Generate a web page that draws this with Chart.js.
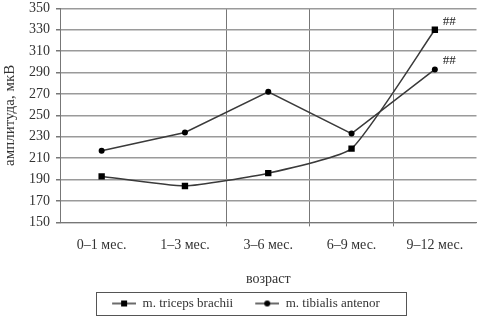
<!DOCTYPE html>
<html>
<head>
<meta charset="utf-8">
<script src="https://cdn.jsdelivr.net/npm/chart.js@4.4.1/dist/chart.umd.min.js"></script>
<style>
  html, body { margin: 0; padding: 0; background: #fff; overflow: hidden; }
  #wrap { width: 481px; height: 328px; margin-top: -6px; position: relative; }
</style>
</head>
<body>
<div id="wrap"><canvas id="chart"></canvas></div>
<script>
const ageGroups = ['0–1 мес.', '1–3 мес.', '3–6 мес.', '6–9 мес.', '9–12 мес.'];
const tricepsValues = [193, 184, 196, 219, 330];
const tibialisValues = [217, 234, 272, 233, 293];
const seriesNames = ['m. triceps brachii', 'm. tibialis antenor'];
const markNotes = ['', '', '', '', '##'];

const serif = "'Liberation Serif', 'DejaVu Serif', serif";
const lineColor = '#3a3a3a';
const textColor = '#333';

// small line+marker images for the legend (blank margin on the left for spacing)
function legendIcon(style) {
    const c = document.createElement('canvas');
    c.width = 38; c.height = 10;
    const g = c.getContext('2d');
    g.strokeStyle = lineColor; g.lineWidth = 1.5;
    g.beginPath(); g.moveTo(14, 5); g.lineTo(38, 5); g.stroke();
    g.fillStyle = '#000';
    if (style === 'rect') g.fillRect(23, 2, 6, 6);
    else { g.beginPath(); g.arc(26, 5, 3, 0, Math.PI * 2); g.fill(); }
    return c;
}

// "##" marks next to the last points
const notesPlugin = {
    id: 'notes',
    afterDatasetsDraw(chart) {
        const ctx = chart.ctx;
        ctx.save();
        ctx.font = '13px ' + serif;
        ctx.fillStyle = '#222';
        ctx.textBaseline = 'bottom';
        chart.data.datasets.forEach((ds, i) => {
            chart.getDatasetMeta(i).data.forEach((pt, j) => {
                if (markNotes[j]) ctx.fillText(markNotes[j], pt.x + 8, pt.y - 2);
            });
        });
        ctx.restore();
    }
};

// frame round the legend
const legendBoxPlugin = {
    id: 'legendBox',
    afterDraw(chart) {
        const lg = chart.legend;
        if (!lg || !lg.legendHitBoxes.length) return;
        const boxes = lg.legendHitBoxes;
        const x0 = boxes[0].left - 2;
        const x1 = boxes[boxes.length - 1].left + boxes[boxes.length - 1].width + 26;
        const yc = boxes[0].top + boxes[0].height / 2;
        const ctx = chart.ctx;
        ctx.save();
        ctx.strokeStyle = '#555';
        ctx.lineWidth = 1;
        ctx.strokeRect(Math.round(x0) + 0.5, Math.round(yc - 12) + 0.5, Math.round(x1 - x0), 23);
        ctx.restore();
    }
};

new Chart(document.getElementById('chart'), {
    type: 'line',
    data: {
        labels: ageGroups,
        datasets: [
            {
                label: seriesNames[0],
                data: tricepsValues,
                borderColor: lineColor,
                borderWidth: 1.5,
                pointStyle: 'rect',
                pointRadius: 4.5,
                pointBorderWidth: 0,
                pointBackgroundColor: '#000',
                pointBorderColor: '#000',
                tension: 0.15
            },
            {
                label: seriesNames[1],
                data: tibialisValues,
                borderColor: lineColor,
                borderWidth: 1.5,
                pointStyle: 'circle',
                pointRadius: 3,
                pointBorderWidth: 0,
                pointBackgroundColor: '#000',
                pointBorderColor: '#000',
                tension: 0
            }
        ]
    },
    options: {
        responsive: true,
        maintainAspectRatio: false,
        animation: false,
        layout: { padding: { left: 1, right: 4, top: 0, bottom: 2 } },
        plugins: {
            legend: {
                position: 'bottom',
                labels: {
                    font: { family: serif, size: 13 },
                    color: textColor,
                    usePointStyle: true,
                    pointStyleWidth: 38,
                    padding: 8,
                    generateLabels(chart) {
                        return chart.data.datasets.map((ds, i) => ({
                            text: ds.label,
                            pointStyle: legendIcon(ds.pointStyle),
                            datasetIndex: i,
                            fontColor: textColor,
                            lineWidth: 0,
                            strokeStyle: 'transparent',
                            fillStyle: 'transparent'
                        }));
                    }
                }
            },
            tooltip: { enabled: false }
        },
        scales: {
            x: {
                offset: true,
                grid: {
                    offset: true,
                    color: (c) => (c.index >= 2 && c.index <= 4) ? '#777' : 'rgba(0,0,0,0)',
                    tickColor: (c) => (c.index >= 2 && c.index <= 4) ? '#777' : 'rgba(0,0,0,0)',
                    tickLength: 4
                },
                border: { display: true, color: '#777' },
                ticks: { font: { family: serif, size: 14 }, color: textColor, padding: 11 },
                title: { display: true, text: 'возраст', font: { family: serif, size: 14 }, color: textColor, padding: { top: 6, bottom: 1 } }
            },
            y: {
                min: 150,
                max: 350,
                ticks: { stepSize: 20, font: { family: serif, size: 14 }, color: textColor, padding: 6 },
                grid: { color: '#9a9a9a', lineWidth: 1.5, tickLength: 4, tickColor: '#777' },
                border: { display: true, color: '#777' },
                title: { display: true, text: 'амплитуда, мкВ', font: { family: serif, size: 15 }, color: textColor, padding: { top: 0, bottom: 4 } }
            }
        }
    },
    plugins: [notesPlugin, legendBoxPlugin]
});
</script>
</body>
</html>
